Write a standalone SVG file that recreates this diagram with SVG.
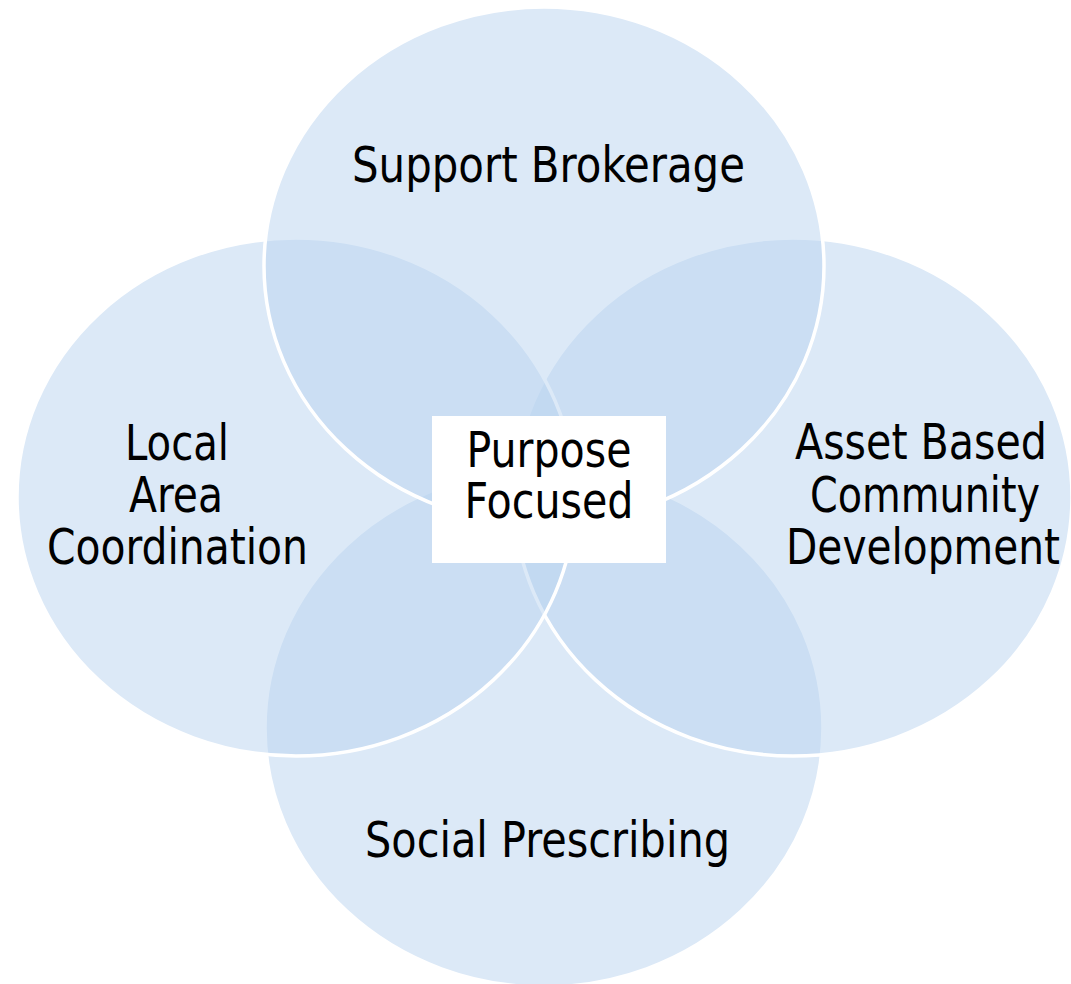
<svg xmlns="http://www.w3.org/2000/svg" width="1071" height="984" viewBox="0 0 1071 984">
  <style>
    .circ { fill: #BAD3F0; fill-opacity: 0.5; stroke: #FFFFFF; stroke-width: 3.5; }
    .lbl { font-family: "DejaVu Sans", "Liberation Sans", sans-serif; font-stretch: condensed; font-size: 49px; fill: #000000; text-anchor: middle; }
    .box { fill: #FFFFFF; stroke: none; }
  </style>
  <rect x="0" y="0" width="1071" height="984" fill="#FFFFFF"/>
  <g id="node-social-prescribing">
    <ellipse class="circ" cx="544" cy="728" rx="279" ry="259"/>
    <text class="lbl" x="547.5" y="857" textLength="365" lengthAdjust="spacingAndGlyphs">Social Prescribing</text>
  </g>
  <g id="node-abcd">
    <ellipse class="circ" cx="793" cy="497" rx="279" ry="259"/>
    <text class="lbl" x="921" y="459" textLength="252" lengthAdjust="spacingAndGlyphs">Asset Based</text>
    <text class="lbl" x="925" y="512" textLength="230" lengthAdjust="spacingAndGlyphs">Community</text>
    <text class="lbl" x="923" y="564" textLength="274" lengthAdjust="spacingAndGlyphs">Development</text>
  </g>
  <g id="node-lac">
    <ellipse class="circ" cx="296" cy="497" rx="279" ry="259"/>
    <text class="lbl" x="177" y="460" textLength="104" lengthAdjust="spacingAndGlyphs">Local</text>
    <text class="lbl" x="176" y="512" textLength="94" lengthAdjust="spacingAndGlyphs">Area</text>
    <text class="lbl" x="177.5" y="564" textLength="261" lengthAdjust="spacingAndGlyphs">Coordination</text>
  </g>
  <g id="node-support-brokerage">
    <ellipse class="circ" cx="544" cy="266" rx="280" ry="259"/>
    <text class="lbl" x="548.5" y="182" textLength="393" lengthAdjust="spacingAndGlyphs">Support Brokerage</text>
  </g>
  <g id="node-purpose-focused">
    <rect class="box" x="432" y="416" width="234" height="147"/>
    <text class="lbl" x="549" y="467" textLength="165" lengthAdjust="spacingAndGlyphs">Purpose</text>
    <text class="lbl" x="549" y="518" textLength="169" lengthAdjust="spacingAndGlyphs">Focused</text>
  </g>
</svg>
